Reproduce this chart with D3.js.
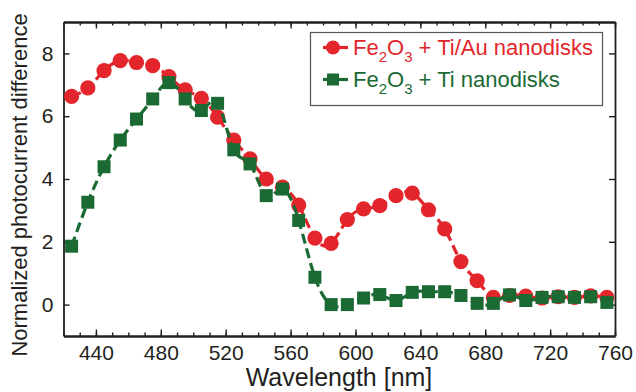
<!DOCTYPE html>
<html>
<head>
<meta charset="utf-8">
<script src="https://cdn.jsdelivr.net/npm/d3@7"></script>
<style>
  body { margin: 0; background: #fff; }
  svg { display: block; font-family: "Liberation Sans", Arial, Helvetica, sans-serif; }
</style>
</head>
<body>
<svg id="chart" width="636" height="392"></svg>
<script>

// wavelengths, nm
var wavelengths = [425, 435, 445, 455, 465, 475, 485, 495, 505, 515, 525, 535, 545, 555, 565, 575, 585,
                   595, 605, 615, 625, 635, 645, 655, 665, 675, 685, 695, 705, 715, 725, 735, 745, 755];

var tiAuValues = [6.63, 6.90, 7.45, 7.77, 7.71, 7.61, 7.26, 6.84, 6.57, 5.97, 5.24, 4.64, 4.00, 3.74, 3.17, 2.12, 1.95,
                  2.71, 3.05, 3.15, 3.47, 3.55, 3.02, 2.41, 1.37, 0.76, 0.23, 0.29, 0.27, 0.21, 0.25, 0.23, 0.28, 0.23];

var tiValues = [1.86, 3.26, 4.39, 5.24, 5.91, 6.55, 7.07, 6.55, 6.18, 6.41, 4.93, 4.48, 3.47, 3.68, 2.68, 0.87, 0.00,
                0.00, 0.21, 0.32, 0.13, 0.39, 0.41, 0.41, 0.29, 0.04, 0.04, 0.31, 0.13, 0.23, 0.25, 0.23, 0.25, 0.07];

var xTickLabels = [440, 480, 520, 560, 600, 640, 680, 720, 760];
var yTickLabels = [0, 2, 4, 6, 8];

var red = "#e3262b";
var green = "#1b6a34";
var ink = "#231f20";

var margin = { top: 22, right: 21, bottom: 56, left: 63.5 };
var width = 636 - margin.left - margin.right;
var height = 392 - margin.top - margin.bottom;

var svg = d3.select("#chart");
var g = svg.append("g").attr("transform", `translate(${margin.left},${margin.top})`);

var x = d3.scaleLinear().domain([420, 760]).range([0, width]);
var y = d3.scaleLinear().domain([-1, 9]).range([height, 0]);

var minorX = d3.range(420, 761, 10);

// minor ticks, bottom and top
g.append("g")
  .attr("transform", `translate(0,${height})`)
  .call(d3.axisBottom(x).tickValues(minorX).tickSizeInner(-3.5).tickSizeOuter(0).tickFormat(""));
g.append("g")
  .call(d3.axisTop(x).tickValues(minorX).tickSizeInner(-3.5).tickSizeOuter(0).tickFormat(""));

// major axes
var xAxis = g.append("g")
  .attr("transform", `translate(0,${height})`)
  .call(d3.axisBottom(x).tickValues(xTickLabels).tickSizeInner(-6.5).tickSizeOuter(0).tickPadding(9));
var xTop = g.append("g")
  .call(d3.axisTop(x).tickValues(xTickLabels).tickSizeInner(-6.5).tickSizeOuter(0).tickFormat(""));
var yAxis = g.append("g")
  .call(d3.axisLeft(y).tickValues(yTickLabels).tickSizeInner(-6).tickSizeOuter(0).tickPadding(10));
var yRight = g.append("g")
  .attr("transform", `translate(${width},0)`)
  .call(d3.axisRight(y).tickValues(yTickLabels).tickSizeInner(-6).tickSizeOuter(0).tickFormat(""));

g.selectAll(".domain").style("stroke", ink).style("stroke-width", 1.8);
g.selectAll(".tick line").style("stroke", ink).style("stroke-width", 1.4);
g.selectAll(".tick text")
  .style("font-size", "21px")
  .style("fill", ink)
  .style("font-family", "'Liberation Sans', Arial, Helvetica, sans-serif");

// axis titles
svg.append("text")
  .attr("x", 339)
  .attr("y", 386)
  .attr("text-anchor", "middle")
  .style("font-size", "25px")
  .style("fill", ink)
  .text("Wavelength [nm]");

svg.append("text")
  .attr("transform", "translate(27,185) rotate(-90)")
  .attr("text-anchor", "middle")
  .style("font-size", "22px")
  .style("fill", ink)
  .text("Normalized photocurrent difference");

// series
var series = [
  { values: tiAuValues, color: red, shape: "circle" },
  { values: tiValues, color: green, shape: "square" }
];

var line = d3.line()
  .x(d => x(d[0]))
  .y(d => y(d[1]))
  .curve(d3.curveNatural);

series.forEach(s => {
  var pts = wavelengths.map((w, i) => [w, s.values[i]]);
  var sg = g.append("g");

  sg.append("path")
    .datum(pts)
    .attr("d", line)
    .style("fill", "none")
    .style("stroke", s.color)
    .style("stroke-width", 3.2)
    .style("stroke-dasharray", "10,5");

  if (s.shape == "circle") {
    sg.selectAll("circle")
      .data(pts)
      .enter()
      .append("circle")
      .attr("cx", d => x(d[0]))
      .attr("cy", d => y(d[1]))
      .attr("r", 7.6)
      .style("fill", s.color);
  } else {
    sg.selectAll("rect")
      .data(pts)
      .enter()
      .append("rect")
      .attr("x", d => x(d[0]) - 6.5)
      .attr("y", d => y(d[1]) - 6.5)
      .attr("width", 13)
      .attr("height", 13)
      .style("fill", s.color);
  }
});

// legend
var legend = svg.append("g");

legend.append("rect")
  .attr("x", 310.5)
  .attr("y", 32.5)
  .attr("width", 292)
  .attr("height", 73)
  .style("fill", "#fff")
  .style("stroke", "#555")
  .style("stroke-width", 1.2);

var legendRows = [
  { label: " + Ti/Au nanodisks", color: red, shape: "circle", y: 55 },
  { label: " + Ti nanodisks", color: green, shape: "square", y: 87 }
];

legendRows.forEach(r => {
  var my = r.y - 7.5;
  legend.append("line")
    .attr("x1", 323).attr("x2", 348)
    .attr("y1", my).attr("y2", my)
    .style("stroke", r.color)
    .style("stroke-width", 3.2);
  if (r.shape == "circle") {
    legend.append("circle").attr("cx", 333).attr("cy", my).attr("r", 7).style("fill", r.color);
  } else {
    legend.append("rect").attr("x", 327).attr("y", my - 6).attr("width", 12).attr("height", 12).style("fill", r.color);
  }

  var t = legend.append("text")
    .attr("x", 353)
    .attr("y", r.y)
    .style("font-size", "22px")
    .style("fill", r.color);
  t.append("tspan").text("Fe");
  t.append("tspan").attr("dy", 7).style("font-size", "15px").text("2");
  t.append("tspan").attr("dy", -7).text("O");
  t.append("tspan").attr("dy", 7).style("font-size", "15px").text("3");
  t.append("tspan").attr("dy", -7).text(r.label);
});

</script>
</body>
</html>
